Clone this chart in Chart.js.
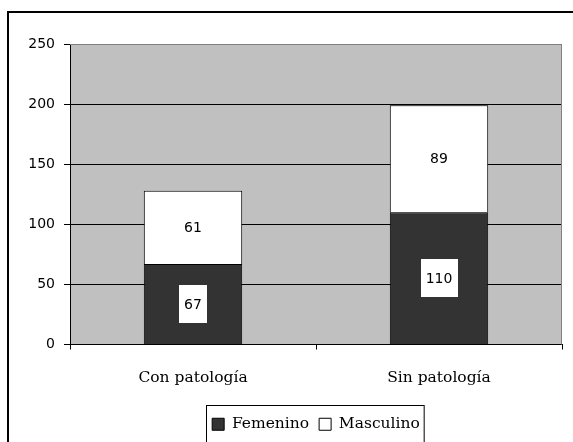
<!DOCTYPE html>
<html>
<head>
<meta charset="utf-8">
<script src="https://cdn.jsdelivr.net/npm/chart.js@4.4.1/dist/chart.umd.min.js"></script>
<style>
  body { margin: 0; background: #fff; }
  canvas { display: block; }
</style>
</head>
<body>
<canvas id="patologiaChart" width="573" height="442"></canvas>
<script>
// data
const categories = ["Con patología", "Sin patología"];
const femenino = [67, 110];
const masculino = [61, 89];
const yTicks = [0, 50, 100, 150, 200, 250];

const sansFont = "'DejaVu Sans', Verdana, sans-serif";
const serifFont = "'DejaVu Serif', serif";

// gray plot background, gray frame, outer border, legend box
const frame = {
    id: "frame",
    beforeDraw(chart) {
        let c = chart.ctx, a = chart.chartArea;
        c.save();
        c.fillStyle = "#fff";
        c.fillRect(0, 0, chart.width, chart.height);
        c.fillStyle = "#c0c0c0";
        c.fillRect(a.left, a.top, a.right - a.left, a.bottom - a.top);
        c.restore();
    },
    afterDraw(chart) {
        let c = chart.ctx, a = chart.chartArea;
        c.save();
        // plot frame top/right
        c.strokeStyle = "#808080";
        c.lineWidth = 1;
        c.beginPath();
        c.moveTo(a.left, a.top + 0.5);
        c.lineTo(a.right - 0.5, a.top + 0.5);
        c.lineTo(a.right - 0.5, a.bottom);
        c.stroke();
        // outer border of the picture
        c.strokeStyle = "#000";
        c.lineWidth = 2;
        c.strokeRect(8, 12, chart.width + 10, chart.height + 10);
        // legend box
        let boxes = chart.legend.legendHitBoxes;
        if (boxes && boxes.length) {
            let minX = Math.min(...boxes.map(b => b.left));
            let maxX = Math.max(...boxes.map(b => b.left + b.width));
            let top = Math.min(...boxes.map(b => b.top));
            c.lineWidth = 1;
            c.strokeRect(Math.round(minX) - 5.5, Math.round(top) - 11.5, maxX - minX + 10, 45);
        }
        c.restore();
    }
};

// value labels in the middle of each segment
const valueLabels = {
    id: "valueLabels",
    afterDatasetsDraw(chart) {
        let c = chart.ctx;
        c.save();
        c.font = "14px " + sansFont;
        c.textAlign = "center";
        c.textBaseline = "middle";
        chart.data.datasets.forEach((ds, i) => {
            chart.getDatasetMeta(i).data.forEach((bar, j) => {
                let y = (bar.y + bar.base) / 2;
                let text = String(ds.data[j]);
                let w = c.measureText(text).width + 10;
                c.fillStyle = "#fff";
                c.fillRect(Math.round(bar.x - w / 2), Math.round(y - 19), Math.round(w), 38);
                c.fillStyle = "#000";
                c.fillText(text, bar.x, y + 1);
            });
        });
        c.restore();
    }
};

new Chart(document.getElementById("patologiaChart").getContext("2d"), {
    type: "bar",
    data: {
        labels: categories,
        datasets: [{
            label: "Femenino",
            data: femenino,
            backgroundColor: "#333333",
            borderColor: "#000",
            borderWidth: 1,
            categoryPercentage: 1,
            barPercentage: 0.4
        }, {
            label: "Masculino",
            data: masculino,
            backgroundColor: "#ffffff",
            borderColor: "#000",
            borderWidth: 1,
            categoryPercentage: 1,
            barPercentage: 0.4
        }]
    },
    options: {
        responsive: false,
        animation: false,
        layout: { padding: { left: 0, top: 44, right: 11, bottom: 0 } },
        plugins: {
            tooltip: { enabled: false },
            legend: {
                position: "bottom",
                fullSize: false,
                labels: {
                    color: "#000",
                    font: { family: serifFont, size: 15.5 },
                    boxWidth: 12,
                    boxHeight: 12,
                    padding: 10
                }
            }
        },
        scales: {
            x: {
                stacked: true,
                afterFit(scale) { scale.height = 62; },
                grid: { drawOnChartArea: false, tickLength: 5, color: "#000" },
                border: { color: "#000" },
                ticks: { color: "#000", padding: 19, font: { family: serifFont, size: 15.5 } }
            },
            y: {
                stacked: true,
                min: 0,
                max: 250,
                afterFit(scale) { scale.width = 70; },
                afterBuildTicks(scale) { scale.ticks = yTicks.map(v => ({ value: v })); },
                grid: {
                    color: ctx => ctx.tick && ctx.tick.value === 250 ? "#808080" : "#000",
                    tickColor: "#000",
                    tickLength: 6
                },
                border: { color: "#000" },
                ticks: { color: "#000", padding: 9, font: { family: sansFont, size: 14 } }
            }
        }
    },
    plugins: [frame, valueLabels]
});
</script>
</body>
</html>
